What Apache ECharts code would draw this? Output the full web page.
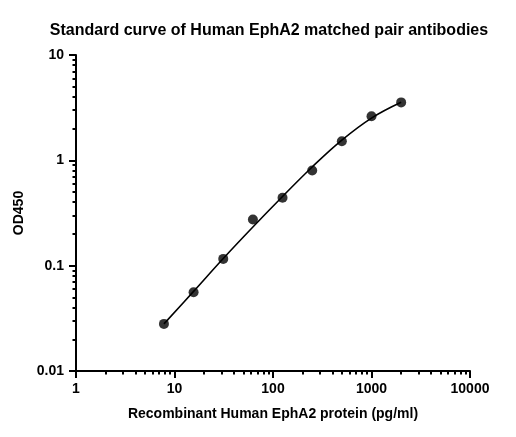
<!DOCTYPE html>
<html>
<head>
<meta charset="utf-8">
<script src="https://cdn.jsdelivr.net/npm/echarts@6/dist/echarts.min.js"></script>
<style>
  html, body { margin: 0; padding: 0; background: #fff; }
  #main { width: 516px; height: 437px; }
</style>
</head>
<body>
<div id="main"></div>
<script>
// standard concentrations (pg/ml) and measured OD450
var concentrations = [7.8125, 15.625, 31.25, 62.5, 125, 250, 500, 1000, 2000];
var odValues = [0.028, 0.056, 0.116, 0.274, 0.441, 0.80, 1.52, 2.62, 3.55];
// fitted curve at the same concentrations
var curveValues = [0.028, 0.057, 0.117, 0.233, 0.454, 0.865, 1.556, 2.52, 3.56];

var xMajorTicks = [1, 10, 100, 1000, 10000];
var yMajorTicks = [0.01, 0.1, 1, 10];

// minor ticks 2..9 per decade
function minorTicks(majors) {
    var out = [];
    for (var i = 0; i < majors.length - 1; i++) {
        for (var k = 2; k <= 9; k++) {
            out.push(+(majors[i] * k).toPrecision(6));
        }
    }
    return out;
}

var FONT = '"Liberation Sans", Arial, sans-serif';
var chart = echarts.init(document.getElementById('main'), null, { renderer: 'canvas' });

var lineStyle = { color: '#000', width: 2 };
var labelText = { fontFamily: FONT, fontSize: 14, fontWeight: 'bold', color: '#000' };

var option = {
    animation: false,
    backgroundColor: '#fff',
    title: {
        text: 'Standard curve of Human EphA2 matched pair antibodies',
        left: 264,
        top: 18,
        textAlign: 'center',
        textStyle: { fontFamily: FONT, fontSize: 16, fontWeight: 'bold', color: '#000' }
    },
    grid: { left: 76, right: 46, top: 55, bottom: 66, containLabel: false },
    xAxis: [{
        type: 'log', logBase: 10, min: 1, max: 10000,
        name: 'Recombinant Human EphA2 protein (pg/ml)',
        nameLocation: 'middle', nameGap: 36,
        nameTextStyle: labelText,
        axisLine: { onZero: false, lineStyle: lineStyle },
        axisTick: { inside: false, length: 7, lineStyle: lineStyle, customValues: xMajorTicks },
        axisLabel: Object.assign({ margin: 11, customValues: xMajorTicks,
                     formatter: function (v) { return String(v); } }, labelText),
        splitLine: { show: false }
    }, {
        type: 'log', logBase: 10, min: 1, max: 10000, position: 'bottom',
        axisLine: { show: false },
        axisTick: { inside: false, length: 3.5, lineStyle: lineStyle, customValues: minorTicks(xMajorTicks) },
        axisLabel: { show: false },
        splitLine: { show: false }
    }],
    yAxis: [{
        type: 'log', logBase: 10, min: 0.01, max: 10,
        name: 'OD450',
        nameLocation: 'middle', nameGap: 42,
        nameTextStyle: labelText,
        axisLine: { onZero: false, lineStyle: lineStyle },
        axisTick: { inside: false, length: 7, lineStyle: lineStyle, customValues: yMajorTicks },
        axisLabel: Object.assign({ margin: 12, customValues: yMajorTicks,
                     formatter: function (v) { return String(v); } }, labelText),
        splitLine: { show: false }
    }, {
        type: 'log', logBase: 10, min: 0.01, max: 10, position: 'left',
        axisLine: { show: false },
        axisTick: { inside: false, length: 3.5, lineStyle: lineStyle, customValues: minorTicks(yMajorTicks) },
        axisLabel: { show: false },
        splitLine: { show: false }
    }],
    series: [{
        name: 'fit',
        type: 'line',
        smooth: 0.4,
        showSymbol: false,
        lineStyle: { color: '#000', width: 1.6 },
        data: concentrations.map(function (c, i) { return [c, curveValues[i]]; }),
        z: 2
    }, {
        name: 'standards',
        type: 'scatter',
        symbol: 'circle',
        symbolSize: 10,
        itemStyle: { color: '#000' },
        data: concentrations.map(function (c, i) { return [c, odValues[i]]; }),
        z: 3
    }]
};

chart.setOption(option);
</script>
</body>
</html>
